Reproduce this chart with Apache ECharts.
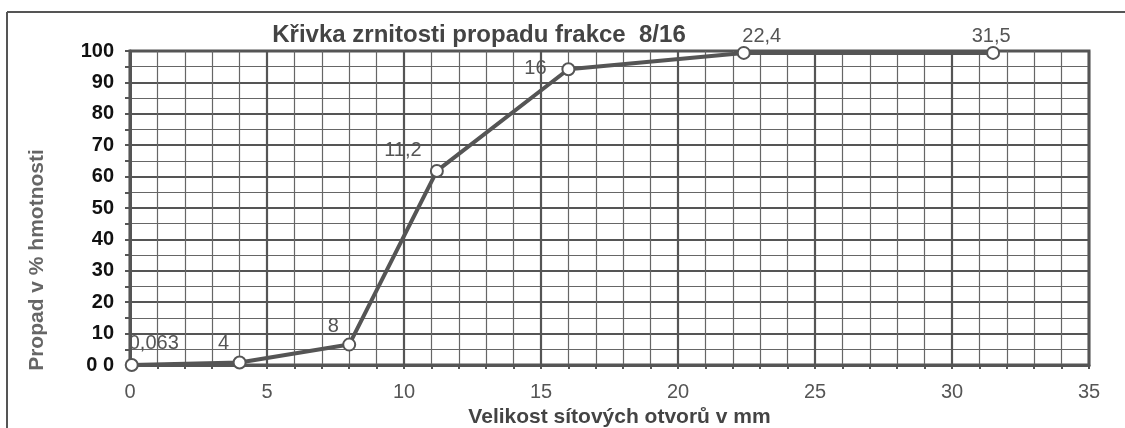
<!DOCTYPE html>
<html>
<head>
<meta charset="utf-8">
<script src="https://cdn.jsdelivr.net/npm/echarts@6/dist/echarts.min.js"></script>
<style>
html,body{margin:0;padding:0;background:#fff;}
#chart{width:1125px;height:428px;}
</style>
</head>
<body>
<div id="chart"></div>
<script>
// ---- data ----
const sieveSizes = [0.063, 4, 8, 11.2, 16, 22.4, 31.5];
const passing = [0, 0.8, 6.5, 61.8, 94.2, 99.4, 99.4];
const yTickLabels = ['0 0', '10', '20', '30', '40', '50', '60', '70', '80', '90', '100'];
const xTickLabels = ['0', '5', '10', '15', '20', '25', '30', '35'];
const titleText = 'Křivka zrnitosti propadu frakce  8/16';
const xAxisTitle = 'Velikost sítových otvorů v mm';
const yAxisTitle = 'Propad v % hmotnosti';

// label offsets (style, not data)
const labelOffsets = [[22, -1], [-16, 2], [-16, 3], [-34, 1], [-33, 20], [18, 5], [-2, 5]];

const seriesData = sieveSizes.map((x, i) => ({
  value: [x, passing[i]],
  label: { offset: labelOffsets[i] }
}));

const chart = echarts.init(document.getElementById('chart'));
const FONT = 'Liberation Sans';
chart.setOption({
  animation: false,
  backgroundColor: '#fff',
  title: {
    text: titleText,
    left: 474, top: 18, textAlign: 'center',
    textStyle: { fontFamily: FONT, fontSize: 24, fontWeight: 'bold', color: '#444' }
  },
  grid: {
    left: 130, right: 36, top: 51, bottom: 63,
    outerBoundsMode: 'none', containLabel: false,
    show: true, borderColor: '#555', borderWidth: 3, backgroundColor: 'transparent'
  },
  xAxis: {
    type: 'value', min: 0, max: 35, interval: 5,
    name: xAxisTitle, nameLocation: 'middle', nameGap: 33,
    nameTextStyle: { fontFamily: FONT, fontSize: 21, fontWeight: 'bold', color: '#444', padding: [0, 0, 0, 20] },
    axisLine: { show: true, lineStyle: { color: '#555', width: 3 } },
    axisTick: { show: true, length: 4, lineStyle: { color: '#555', width: 2 } },
    minorTick: { show: true, splitNumber: 5, length: 4, lineStyle: { color: '#555', width: 2 } },
    axisLabel: {
      fontFamily: FONT, fontSize: 20, color: '#555', margin: 17,
      formatter: v => xTickLabels[Math.round(v / 5)]
    },
    splitLine: { show: true, lineStyle: { color: '#555', width: 2.2 } },
    minorSplitLine: { show: true, lineStyle: { color: '#666', width: 1.2 } }
  },
  yAxis: {
    type: 'value', min: 0, max: 100, interval: 10,
    axisLine: { show: true, lineStyle: { color: '#555', width: 3 } },
    axisTick: { show: true, length: 5, lineStyle: { color: '#555', width: 2 } },
    minorTick: { show: true, splitNumber: 2, length: 5, lineStyle: { color: '#555', width: 2 } },
    axisLabel: {
      fontFamily: FONT, fontSize: 20, fontWeight: 'bold', color: '#111', margin: 16,
      formatter: v => yTickLabels[Math.round(v / 10)]
    },
    splitLine: { show: true, lineStyle: { color: '#555', width: 2.2 } },
    minorSplitLine: { show: true, lineStyle: { color: '#666', width: 1.2 } }
  },
  graphic: [
    { type: 'line', shape: { x1: 7, y1: 12, x2: 7, y2: 428 }, style: { stroke: '#555', lineWidth: 2 } },
    { type: 'line', shape: { x1: 7, y1: 12, x2: 1125, y2: 12 }, style: { stroke: '#555', lineWidth: 2 } },
    {
      type: 'text', x: 37, y: 260, rotation: Math.PI / 2,
      style: {
        text: yAxisTitle, fontFamily: FONT, fontSize: 21, fontWeight: 'bold', fill: '#666',
        align: 'center', verticalAlign: 'middle'
      }
    }
  ],
  series: [{
    type: 'line',
    data: seriesData,
    symbol: 'circle', symbolSize: 12,
    itemStyle: { color: '#fff', borderColor: '#555', borderWidth: 2 },
    lineStyle: { color: '#555', width: 4 },
    z: 5,
    label: {
      show: true, position: 'top', distance: 4,
      fontFamily: FONT, fontSize: 20, color: '#555',
      formatter: p => String(p.value[0]).replace('.', ',')
    }
  }]
});
</script>
</body>
</html>
